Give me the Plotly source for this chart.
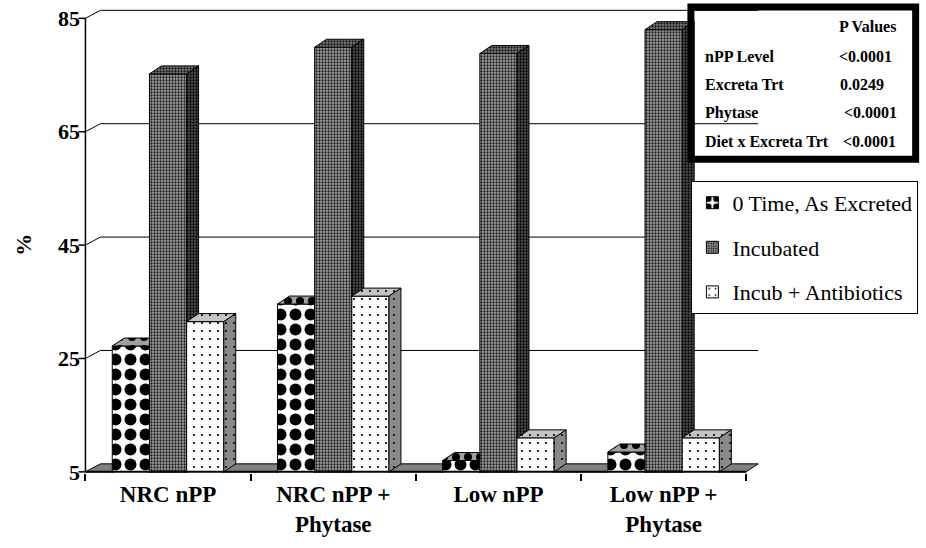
import plotly.graph_objects as go

# ---- data -------------------------------------------------------------
categories = ["NRC nPP", "NRC nPP +<br>Phytase", "Low nPP", "Low nPP +<br>Phytase"]
series_names = ["0 Time, As Excreted", "Incubated", "Incub + Antibiotics"]
zero_time = [27.2, 34.6, 7.0, 8.5]
incubated = [75.2, 79.9, 78.8, 83.0]
incub_abx = [31.5, 36.0, 11.0, 11.0]
y_ticks = [5, 25, 45, 65, 85]
pvalue_terms = ["nPP Level", "Excreta Trt", "Phytase", "Diet x Excreta Trt"]
pvalue_values = ["<0.0001", "0.0249", "<0.0001", "<0.0001"]

# ---- geometry ---------------------------------------------------------
W, H = 926, 548
X0_PX, CAT_PX = 85.0, 165.75      # left axis position, width of one category
Y5_PX, UNIT_PX = 471.5, 5.66      # baseline (value 5) position, pixels per unit
X_RANGE = [-0.045, 4.15]
Y_RANGE = [4.8, 87.0]
BASE = 5

margin_l = X0_PX + X_RANGE[0] * CAT_PX
margin_r = W - (X0_PX + X_RANGE[1] * CAT_PX)
margin_t = Y5_PX - (Y_RANGE[1] - BASE) * UNIT_PX
margin_b = H - (Y5_PX - (Y_RANGE[0] - BASE) * UNIT_PX)


def px_x(p):
    return (p - margin_l) / (W - margin_l - margin_r)


def px_y(p):
    return (H - margin_b - p) / (H - margin_t - margin_b)


# depth of the 3-D effect, in data units
BAR_DX = 12 / CAT_PX
WALL_DX = 15 / CAT_PX
DEPTH_DY = 8 / UNIT_PX

BAR_W = 0.225
offsets = [-1.5 * BAR_W, -0.5 * BAR_W, 0.5 * BAR_W]

FONT = "Liberation Serif, Times New Roman, DejaVu Serif, serif"


def pat(shape, fg, bg, size, solidity):
    return dict(shape=shape, fgcolor=fg, bgcolor=bg, size=size, solidity=solidity,
                fgopacity=1, fillmode="replace")


# ---- face styles: front / top / side ------------------------------------
styles = [
    dict(front=dict(color="white", pattern=pat(".", "black", "white", 15, 0.5)),
         top=dict(fillcolor="#a0a0a0", fillpattern=pat(".", "black", "#a0a0a0", 12, 0.35)),
         side=dict(fillcolor="#707070", fillpattern=pat(".", "black", "#707070", 12, 0.35))),
    dict(front=dict(color="#9c9c9c", pattern=pat(".", "#1a1a1a", "#a4a4a4", 3, 0.45)),
         top=dict(fillcolor="#7a7a7a", fillpattern=pat(".", "#101010", "#808080", 3, 0.45)),
         side=dict(fillcolor="#4a4a4a", fillpattern=pat(".", "#000000", "#505050", 3, 0.45))),
    dict(front=dict(color="white", pattern=pat(".", "black", "white", 8, 0.06)),
         top=dict(fillcolor="#c4c4c4", fillpattern=pat(".", "black", "#c4c4c4", 8, 0.06)),
         side=dict(fillcolor="#8a8a8a", fillpattern=pat(".", "black", "#8a8a8a", 8, 0.06))),
]

series = [zero_time, incubated, incub_abx]
centers = [i + 0.5 for i in range(len(categories))]

fig = go.Figure()

# front faces of the bars
for s, (name, vals) in enumerate(zip(series_names, series)):
    fig.add_trace(go.Bar(
        x=centers, y=vals, width=BAR_W, offset=offsets[s], name=name,
        legendgroup=f"g{s}",
        marker=dict(color=styles[s]["front"]["color"], pattern=styles[s]["front"]["pattern"],
                    line=dict(color="black", width=1)),
        hoverinfo="skip",
    ))


def poly(pts, style):
    xs = [p[0] for p in pts] + [pts[0][0]]
    ys = [p[1] for p in pts] + [pts[0][1]]
    return go.Scatter(x=xs, y=ys, mode="lines", fill="toself",
                      fillcolor=style["fillcolor"], fillpattern=style["fillpattern"],
                      line=dict(color="black", width=1), showlegend=False, hoverinfo="skip")


# tops and visible parts of the sides, drawn left to right
for c in range(len(categories)):
    vals = [sv[c] for sv in series]
    for i in range(3):
        xl = centers[c] + offsets[i]
        xr = xl + BAR_W
        h = vals[i]
        nxt = vals[i + 1] if i < 2 else None
        if nxt is not None and nxt >= h + DEPTH_DY:
            top = [(xl, h), (xr, h), (xr, h + DEPTH_DY), (xl + BAR_DX, h + DEPTH_DY)]
        else:
            top = [(xl, h), (xr, h), (xr + BAR_DX, h + DEPTH_DY), (xl + BAR_DX, h + DEPTH_DY)]
        fig.add_trace(poly(top, styles[i]["top"]))
        lower = BASE if nxt is None else nxt
        if lower < h:
            side = [(xr, lower), (xr, h), (xr + BAR_DX, h + DEPTH_DY), (xr + BAR_DX, lower + DEPTH_DY)]
            fig.add_trace(poly(side, styles[i]["side"]))

shapes = []
# floor
shapes.append(dict(type="path", xref="x", yref="y", layer="below",
                   path=f"M0,{BASE} L4,{BASE} L{4 + BAR_DX},{BASE + DEPTH_DY} L{WALL_DX},{BASE + DEPTH_DY} Z",
                   fillcolor="#808080", line=dict(color="black", width=1)))
# back-wall gridlines
for v in y_ticks[1:]:
    shapes.append(dict(type="path", xref="x", yref="y", layer="below",
                       path=f"M0,{v} L{WALL_DX},{v + DEPTH_DY} L{4 + BAR_DX},{v + DEPTH_DY}",
                       line=dict(color="black", width=1)))
# value axis line and ticks, category baseline
shapes.append(dict(type="line", xref="x", yref="y", x0=0, x1=0, y0=BASE, y1=y_ticks[-1],
                   line=dict(color="black", width=1.5)))
for v in y_ticks:
    shapes.append(dict(type="line", xref="x", yref="y", x0=-7 / CAT_PX, x1=0, y0=v, y1=v,
                       line=dict(color="black", width=1.5)))
shapes.append(dict(type="line", xref="x", yref="y", x0=0, x1=4, y0=BASE, y1=BASE,
                   line=dict(color="black", width=2)))
# P value box
shapes.append(dict(type="rect", xref="paper", yref="paper",
                   x0=px_x(692.5), x1=px_x(918), y0=px_y(159.5), y1=px_y(7.5),
                   line=dict(color="black", width=7)))

BOLD = dict(family=FONT, size=16, color="black", weight="bold")
annotations = [
    dict(text="%", xref="paper", yref="paper", x=px_x(22), y=px_y(245), showarrow=False,
         xanchor="center", yanchor="middle", textangle=-90,
         font=dict(family=FONT, size=22, color="black", weight="bold")),
    dict(text="P Values", xref="paper", yref="paper", x=px_x(839), y=px_y(27),
         xanchor="left", yanchor="middle", showarrow=False, font=BOLD),
]
row_y = [57, 85, 113, 142]
val_x = [839, 840, 844, 843]
for term, val, ry, vx in zip(pvalue_terms, pvalue_values, row_y, val_x):
    annotations.append(dict(text=term, xref="paper", yref="paper", x=px_x(705), y=px_y(ry),
                            xanchor="left", yanchor="middle", showarrow=False, font=BOLD))
    annotations.append(dict(text=val, xref="paper", yref="paper", x=px_x(vx), y=px_y(ry),
                            xanchor="left", yanchor="middle", showarrow=False, font=BOLD))

fig.update_layout(
    width=W, height=H,
    margin=dict(l=margin_l, r=margin_r, t=margin_t, b=margin_b, pad=0),
    paper_bgcolor="white", plot_bgcolor="white",
    barmode="overlay",
    showlegend=True,
    legend=dict(x=px_x(693), y=px_y(181), xanchor="left", yanchor="top",
                bgcolor="white", bordercolor="black", borderwidth=1,
                font=dict(family=FONT, size=22, color="black"),
                traceorder="grouped", tracegroupgap=13),
    xaxis=dict(range=X_RANGE, tickmode="array", tickvals=centers, ticktext=categories,
               ticks="", ticklen=0, ticklabelstandoff=5,
               showline=False, showgrid=False, zeroline=False,
               tickfont=dict(family=FONT, size=23, color="black", weight="bold"),
               minor=dict(tickmode="array", tickvals=[0, 1, 2, 3, 4], ticks="outside",
                          ticklen=7, tickcolor="black", tickwidth=1.5, showgrid=False)),
    yaxis=dict(range=Y_RANGE, tickmode="array", tickvals=y_ticks, ticks="", ticklen=0,
               ticklabelstandoff=-3,
               showline=False, showgrid=False, zeroline=False,
               tickfont=dict(family=FONT, size=22, color="black", weight="bold")),
    shapes=shapes,
    annotations=annotations,
)

fig.write_html("out.html")
